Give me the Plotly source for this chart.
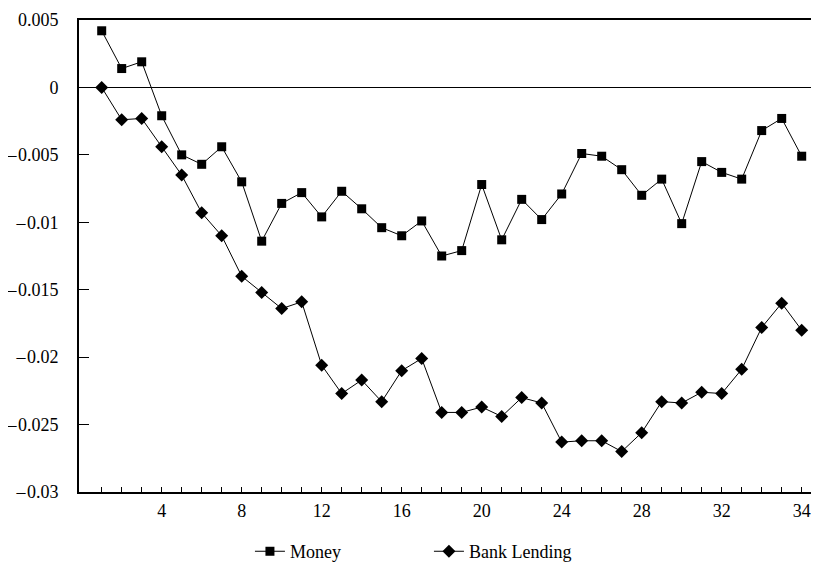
import plotly.graph_objects as go

periods = list(range(1, 37))
money = [0.0042, 0.0014, 0.0019, -0.0021, -0.0050, -0.0057, -0.0044, -0.0070,
         -0.0114, -0.0086, -0.0078, -0.0096, -0.0077, -0.0090, -0.0104, -0.0110,
         -0.0099, -0.0125, -0.0121, -0.0072, -0.0113, -0.0083, -0.0098, -0.0079,
         -0.0049, -0.0051, -0.0061, -0.0080, -0.0068, -0.0101, -0.0055, -0.0063,
         -0.0068, -0.0032, -0.0023, -0.0051]
bank_lending = [0.0, -0.0024, -0.0023, -0.0044, -0.0065, -0.0093, -0.0110, -0.0140,
                -0.0152, -0.0164, -0.0159, -0.0206, -0.0227, -0.0217, -0.0233, -0.0210,
                -0.0201, -0.0241, -0.0241, -0.0237, -0.0244, -0.0230, -0.0234, -0.0263,
                -0.0262, -0.0262, -0.0270, -0.0256, -0.0233, -0.0234, -0.0226, -0.0227,
                -0.0209, -0.0178, -0.0160, -0.0180]

x_label_positions = [4, 8, 12, 16, 20, 24, 28, 32, 36]
x_label_texts = ["4", "8", "12", "16", "20", "24", "28", "32", "34"]
y_tick_values = [0.005, 0, -0.005, -0.01, -0.015, -0.02, -0.025, -0.03]
y_tick_texts = ["0.005", "0", "\u20130.005", "\u20130.01", "\u20130.015",
                "\u20130.02", "\u20130.025", "\u20130.03"]

label_map = dict(zip(x_label_positions, x_label_texts))
x_ticktext = [label_map.get(p, "") for p in periods]

# tiny gap after the dash, as in the reference typography
y_ticktext = [t.replace("\u2013", "\u2013\u200a") for t in y_tick_texts]

FONT = "Liberation Serif"

fig = go.Figure()
fig.add_trace(go.Scatter(
    x=periods, y=money, name="Money", mode="lines+markers",
    line=dict(color="black", width=1),
    marker=dict(symbol="square", size=9, color="black"),
))
fig.add_trace(go.Scatter(
    x=periods, y=bank_lending, name="Bank Lending", mode="lines+markers",
    line=dict(color="black", width=1),
    marker=dict(symbol="diamond", size=10, color="black"),
))

fig.update_layout(
    width=819, height=564,
    margin=dict(l=71, r=8, t=12, b=80, autoexpand=False),
    paper_bgcolor="white", plot_bgcolor="white",
    font=dict(family=FONT, size=18, color="black"),
    showlegend=True,
    legend=dict(orientation="h", x=0.231, xanchor="left", y=-0.087, yanchor="top",
                font=dict(family=FONT, size=18, color="black"),
                bgcolor="rgba(0,0,0,0)", entrywidth=134),
)
fig.update_xaxes(
    range=[-0.135, 36.865], showgrid=False, zeroline=False, automargin=False,
    showline=True, linecolor="black", linewidth=2, mirror=True,
    ticks="inside", ticklen=5, tickwidth=1, tickcolor="black",
    tickvals=periods, ticktext=x_ticktext, ticklabelstandoff=1,
    tickfont=dict(family=FONT, size=18, color="black"),
)
fig.update_yaxes(
    range=[-0.03, 0.005], showgrid=False, automargin=False,
    zeroline=True, zerolinecolor="black", zerolinewidth=1,
    showline=True, linecolor="black", linewidth=2, mirror=False,
    ticks="inside", ticklen=10, tickwidth=1, tickcolor="black",
    tickvals=y_tick_values, ticktext=y_ticktext,
    tickfont=dict(family=FONT, size=18, color="black"),
    ticklabelstandoff=15,
)

fig.write_html("out.html")
